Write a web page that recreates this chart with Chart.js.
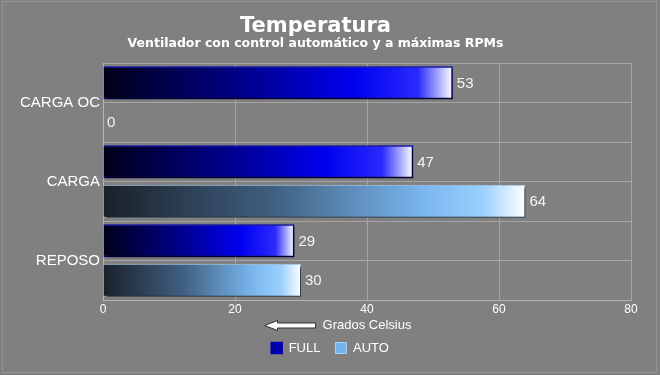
<!DOCTYPE html>
<html>
<head>
<meta charset="utf-8">
<script src="https://cdn.jsdelivr.net/npm/chart.js@4"></script>
<style>
  html, body { margin: 0; padding: 0; background: #808080; }
  #wrap { width: 660px; height: 375px; }
</style>
</head>
<body>
<div id="wrap"><canvas id="temp-chart" width="660" height="375"></canvas></div>
<script>
const categories = ['CARGA OC', 'CARGA', 'REPOSO'];
const fullValues = [53, 47, 29];
const autoValues = [0, 64, 30];
const xTicks = [0, 20, 40, 60, 80];

const FONT = "'Liberation Sans', Arial, sans-serif";
const TITLE_FONT = "'DejaVu Sans', Verdana, sans-serif";

// degradado horizontal por barra: oscuro -> color -> blanco al final
function barGradient(context, stops, fallback) {
    const chart = context.chart;
    if (!chart.chartArea || context.type !== 'data') return fallback;
    const x = chart.scales.x;
    const x0 = x.getPixelForValue(0);
    const x1 = x.getPixelForValue(context.raw);
    if (x1 - x0 < 2) return fallback;
    const g = chart.ctx.createLinearGradient(x0, 0, x1, 0);
    stops.forEach(s => g.addColorStop(s[0], s[1]));
    return g;
}

const fullStops = [[0, '#000018'], [0.45, '#00009a'], [0.72, '#0000f0'], [0.9, '#2a2aff'], [1, '#ffffff']];
const autoStops = [[0, '#1a2029'], [0.4, '#3f5f80'], [0.75, '#78b4ec'], [0.9, '#9ad0ff'], [1, '#ffffff']];

const bgPlugin = {
    id: 'bg',
    beforeDraw(chart) {
        const c = chart.ctx;
        c.save();
        c.fillStyle = '#808080';
        c.fillRect(0, 0, chart.width, chart.height);
        c.strokeStyle = '#949494';
        c.lineWidth = 1;
        c.strokeRect(2.5, 1.5, chart.width - 6, chart.height - 4);
        c.restore();
    }
};

const shadowPlugin = {
    id: 'shadow',
    beforeDatasetsDraw(chart) {
        const c = chart.ctx;
        c.save();
        c.shadowColor = 'rgba(0,0,0,0.75)';
        c.shadowOffsetX = 2;
        c.shadowOffsetY = 2;
        c.shadowBlur = 2;
    },
    afterDatasetsDraw(chart) {
        chart.ctx.restore();
    }
};

const labelsPlugin = {
    id: 'valueLabels',
    afterDatasetsDraw(chart) {
        const c = chart.ctx;
        c.save();
        c.font = '15px ' + FONT;
        c.fillStyle = '#f4f4f4';
        c.textAlign = 'left';
        c.textBaseline = 'middle';
        chart.data.datasets.forEach((ds, i) => {
            chart.getDatasetMeta(i).data.forEach((bar, j) => {
                c.fillText(String(ds.data[j]), bar.x + 4, bar.y + 1);
            });
        });
        c.restore();
    }
};

// leyenda centrada en todo el ancho y un poco mas arriba
const legendPlacePlugin = {
    id: 'legendPlace',
    afterLayout(chart) {
        const lg = chart.legend;
        if (!lg) return;
        const h = lg.height;
        lg.left = 0;
        lg.right = chart.width;
        lg.width = chart.width;
        lg.top = 326.5;
        lg.bottom = lg.top + h;
    }
};

// flecha a la izquierda del titulo del eje x
const arrowPlugin = {
    id: 'arrow',
    afterDraw(chart) {
        const c = chart.ctx;
        const x = chart.scales.x;
        c.save();
        c.font = '13px ' + FONT;
        const tw = c.measureText('Grados Celsius').width;
        const cx = (x.left + x.right) / 2;
        const right = cx - tw / 2 - 7;
        const left = right - 51;
        const y = 325.5;
        c.fillStyle = '#ffffff';
        c.strokeStyle = '#303030';
        c.lineWidth = 1;
        c.beginPath();
        c.moveTo(left, y);
        c.lineTo(left + 13, y - 5);
        c.lineTo(left + 13, y - 2.5);
        c.lineTo(right, y - 2.5);
        c.lineTo(right, y + 2.5);
        c.lineTo(left + 13, y + 2.5);
        c.lineTo(left + 13, y + 5);
        c.closePath();
        c.fill();
        c.stroke();
        c.restore();
    }
};

const ctx = document.getElementById('temp-chart').getContext('2d');
const chart = new Chart(ctx, {
    type: 'bar',
    data: {
        labels: categories,
        datasets: [{
            label: 'FULL',
            data: fullValues,
            backgroundColor: (c) => barGradient(c, fullStops, '#0808c8'),
            borderColor: '#0000b4',
            borderWidth: 1.5,
            categoryPercentage: 1,
            barPercentage: 0.84
        }, {
            label: 'AUTO',
            data: autoValues,
            backgroundColor: (c) => barGradient(c, autoStops, '#74b2ea'),
            borderColor: '#a9d2f4',
            borderWidth: 1,
            categoryPercentage: 1,
            barPercentage: 0.84
        }]
    },
    options: {
        indexAxis: 'y',
        responsive: false,
        animation: false,
        layout: { padding: { left: 0, right: 29, top: 0, bottom: 2 } },
        scales: {
            x: {
                min: 0,
                max: 80,
                afterBuildTicks: (scale) => { scale.ticks = xTicks.map(v => ({ value: v })); },
                ticks: { color: '#ffffff', font: { family: FONT, size: 12 }, padding: 2 },
                grid: { color: '#a4a4a4', drawTicks: false },
                border: { color: '#b4b4b4' },
                title: {
                    display: true,
                    text: 'Grados Celsius',
                    color: '#ffffff',
                    font: { family: FONT, size: 13 },
                    padding: { top: 0, bottom: 2 }
                },
                afterFit: (scale) => { scale.height = 35; }
            },
            y: {
                ticks: { color: '#ffffff', font: { family: FONT, size: 15 }, padding: 3 },
                grid: { display: false, drawTicks: false },
                border: { color: '#b4b4b4' },
                afterFit: (scale) => { scale.width = 103; }
            },
            rows: {
                type: 'category',
                labels: ['', '', '', '', '', ''],
                axis: 'y',
                position: 'right',
                offset: true,
                ticks: { display: false },
                grid: { color: '#a4a4a4', offset: true, drawTicks: false },
                border: { color: '#a4a4a4' },
                afterFit: (scale) => { scale.width = 0; }
            }
        },
        plugins: {
            title: {
                display: true,
                text: 'Temperatura',
                color: '#ffffff',
                font: { family: TITLE_FONT, size: 21, weight: 'bold', lineHeight: 1 },
                padding: { top: 16, bottom: 0 }
            },
            subtitle: {
                display: true,
                text: 'Ventilador con control automático y a máximas RPMs',
                color: '#ffffff',
                font: { family: TITLE_FONT, size: 12.5, weight: 'bold', lineHeight: 1 },
                padding: { top: 0, bottom: 13.5 }
            },
            legend: {
                position: 'bottom',
                labels: {
                    color: '#ffffff',
                    font: { family: FONT, size: 13 },
                    boxWidth: 11,
                    boxHeight: 11,
                    padding: 15
                }
            },
            tooltip: { enabled: false }
        }
    },
    plugins: [bgPlugin, shadowPlugin, labelsPlugin, legendPlacePlugin, arrowPlugin]
});
</script>
</body>
</html>
